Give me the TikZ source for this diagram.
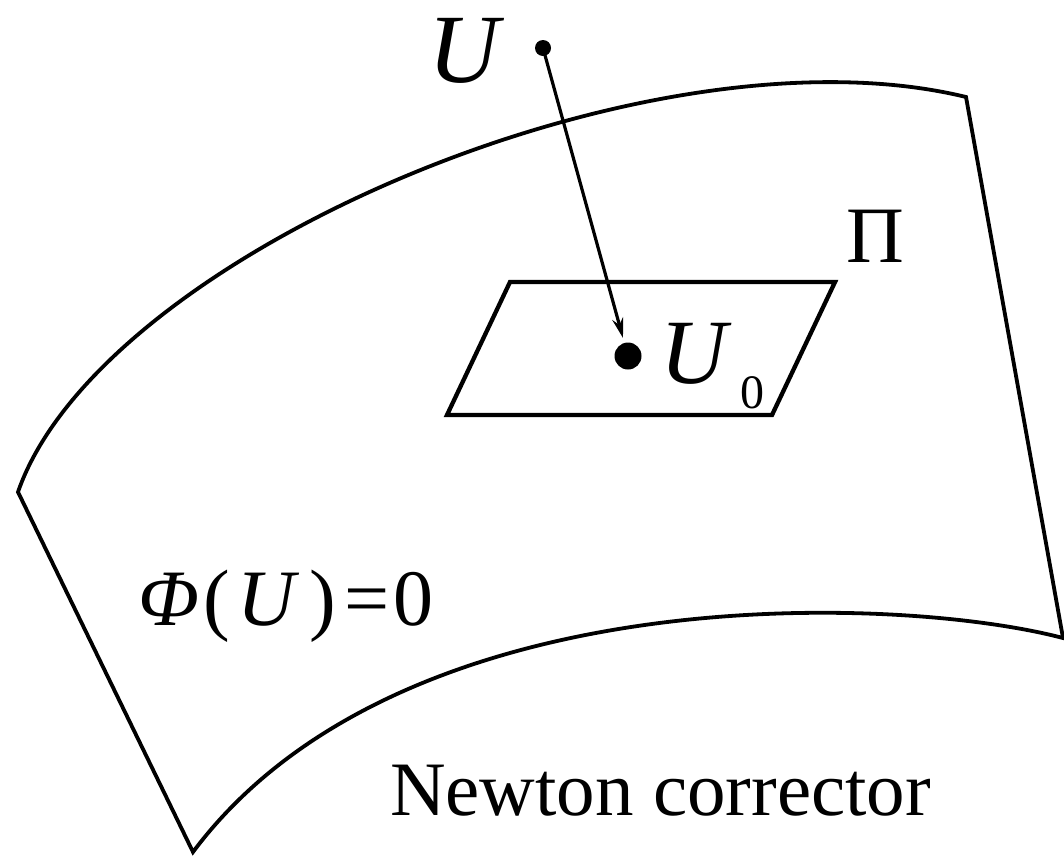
\documentclass[tikz,border=0pt]{standalone}
\usepackage{fontspec}
\setmainfont{Liberation Serif}
\usetikzlibrary{arrows.meta}
\begin{document}
\begin{tikzpicture}[x=1pt,y=-1pt,
  edge/.style={line width=3.8pt,line join=miter},
  plane/.style={line width=4.3pt,line join=miter},
  lbl/.style={inner sep=0pt,anchor=base west},
  ptdot/.style={circle,fill=black,inner sep=0pt}]
\useasboundingbox (0,0) rectangle (1064,855);
% surface
\coordinate (A) at (18,492);
\coordinate (B) at (966,97);
\coordinate (C) at (1063,638);
\coordinate (D) at (193,852);
\draw[edge] (A) .. controls (100,255) and (650,20) .. (B) -- (C)
  .. controls (900,595) and (400,575) .. (D) -- cycle;
% plane
\coordinate (P1) at (510,282);
\coordinate (P2) at (835,282);
\coordinate (P3) at (772,415);
\coordinate (P4) at (447,415);
\draw[plane] (P1) -- (P2) -- (P3) -- (P4) -- cycle;
% points
\node[ptdot,minimum size=16pt] (u) at (543,48) {};
\node[ptdot,minimum size=27pt] (u0) at (628,356) {};
\draw[line width=3.2pt,-{Stealth[length=20pt,width=11pt]}] (u.center) -- (623,338) coordinate (tip);
% labels
\node[lbl,font=\fontsize{98}{100}\selectfont] (lu) at (428,82) {\textit{U}};
\node[lbl,font=\fontsize{92}{100}\selectfont] (lu0) at (660,383) {\textit{U}};
\node[lbl,font=\fontsize{48}{50}\selectfont] (l0) at (740,408) {0};
\node[lbl,font=\fontsize{80}{90}\selectfont] (lpi) at (846,262) {Π};
\node[lbl,font=\fontsize{80}{90}\selectfont] (lphi) at (138,625)
  {\textit{Φ}\kern4pt(\kern8pt\textit{U}\kern10pt)\kern8pt=\kern4pt0};
\node[lbl,font=\fontsize{77}{80}\selectfont] (lnc) at (390,815) {Newton corrector};
\end{tikzpicture}
\end{document}
